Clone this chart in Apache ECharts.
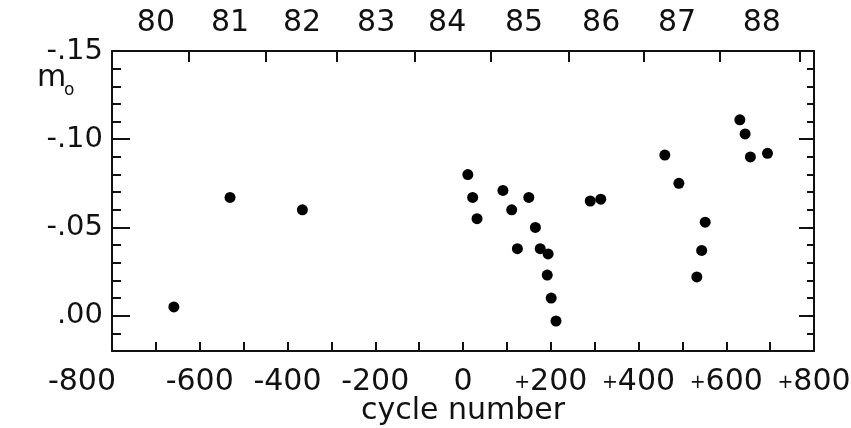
<!DOCTYPE html>
<html>
<head>
<meta charset="utf-8">
<script src="https://cdn.jsdelivr.net/npm/echarts@6/dist/echarts.min.js"></script>
<style>
  html, body { margin: 0; padding: 0; background: #fff; }
  #chart { width: 851px; height: 428px; }
</style>
</head>
<body>
<div id="chart"></div>
<script>
// cycle number vs m0
var cycles = [-659, -531, -366, 11, 22, 32, 91, 111, 124, 150, 165, 176, 194, 192, 201, 212,
              290, 314, 460, 492, 552, 544, 533, 631, 643, 655, 694];
var m0 = [-0.005, -0.067, -0.060, -0.080, -0.067, -0.055, -0.071, -0.060, -0.038, -0.067,
          -0.050, -0.038, -0.035, -0.023, -0.010, 0.003, -0.065, -0.066, -0.091, -0.075,
          -0.053, -0.037, -0.022, -0.111, -0.103, -0.090, -0.092];

// bottom axis labels
var xLabelValues = [-800, -600, -400, -200, 0, 200, 400, 600, 800];
var xLabelTexts = ['-800', '-600', '-400', '-200', '0', '+200', '+400', '+600', '+800'];

// top axis: year boundaries (in cycles) and year labels centred in each year
var yearTicks = [-624, -449, -287, -109, 64, 242, 413, 586, 768];
var yearLabelPos = [-700, -531, -367, -198, -36, 139, 315, 488, 681];
var yearLabels = ['80', '81', '82', '83', '84', '85', '86', '87', '88'];

// left axis labels
var yLabelValues = [-0.15, -0.10, -0.05, 0.00];
var yLabelTexts = ['-.15', '-.10', '-.05', '.00'];

var FONT = 'DejaVu Sans';
var INK = '#111';

function lookup(values, texts) {
    return function (v) {
        for (var i = 0; i < values.length; i++) {
            if (Math.abs(values[i] - v) < 1e-6) return texts[i];
        }
        return '';
    };
}

var lineStyle = { color: INK, width: 2 };
var labelStyle = { color: INK, fontFamily: FONT, fontSize: 30 };

var xLabel = lookup(xLabelValues, xLabelTexts);

var myChart = echarts.init(document.getElementById('chart'));
var option = {
    animation: false,
    backgroundColor: '#fff',
    grid: { left: 112, right: 37, top: 51, bottom: 77, outerBoundsMode: 'none' },
    xAxis: [{
        type: 'value', position: 'bottom', min: -800, max: 800, interval: 100,
        axisLine: { onZero: false, lineStyle: lineStyle },
        axisTick: { inside: true, length: 9, lineStyle: lineStyle },
        axisLabel: Object.assign({ margin: 16, customValues: xLabelValues,
            formatter: function (v) {
                var t = xLabel(v);
                // first label sits left of the corner in the original
                if (v === -800) return '{first|' + t + '}';
                // small plus sign
                if (t.charAt(0) === '+') return '{p|+}' + t.slice(1);
                return t;
            },
            rich: {
                first: { fontFamily: FONT, fontSize: 30, color: INK, padding: [0, 60, 0, 0] },
                p: { fontFamily: FONT, fontSize: 19, color: INK, padding: [3, 0, 0, 0] }
            }
        }, labelStyle),
        splitLine: { show: false },
        name: 'cycle number', nameLocation: 'middle', nameGap: 45, nameMoveOverlap: false,
        nameTextStyle: { color: INK, fontFamily: FONT, fontSize: 30 }
    }, {
        type: 'value', position: 'top', min: -800, max: 800,
        axisLine: { onZero: false, lineStyle: lineStyle },
        axisTick: { inside: true, length: 11, customValues: yearTicks, lineStyle: lineStyle },
        axisLabel: Object.assign({ margin: 13, customValues: yearLabelPos,
            formatter: lookup(yearLabelPos, yearLabels) }, labelStyle),
        splitLine: { show: false }
    }],
    yAxis: [{
        type: 'value', position: 'left', inverse: true, min: -0.15, max: 0.02, interval: 0.01,
        axisLine: { onZero: false, lineStyle: lineStyle },
        axisTick: { inside: true, length: 9, lineStyle: lineStyle },
        axisLabel: Object.assign({ margin: 9, customValues: yLabelValues,
            formatter: lookup(yLabelValues, yLabelTexts) }, labelStyle, { fontSize: 29 }),
        splitLine: { show: false }
    }, {
        type: 'value', position: 'left', inverse: true, min: -0.15, max: 0.02,
        axisLine: { show: false, onZero: false },
        axisTick: { inside: true, length: 18, customValues: yLabelValues, lineStyle: lineStyle },
        axisLabel: { show: false },
        splitLine: { show: false }
    }, {
        type: 'value', position: 'right', inverse: true, min: -0.15, max: 0.02, interval: 0.01,
        axisLine: { onZero: false, lineStyle: lineStyle },
        axisTick: { inside: true, length: 7, lineStyle: lineStyle },
        axisLabel: { show: false },
        splitLine: { show: false }
    }, {
        type: 'value', position: 'right', inverse: true, min: -0.15, max: 0.02,
        axisLine: { show: false, onZero: false },
        axisTick: { inside: true, length: 15, customValues: yLabelValues, lineStyle: lineStyle },
        axisLabel: { show: false },
        splitLine: { show: false }
    }],
    graphic: [{
        type: 'text', left: 37, top: 63,
        style: { text: 'm', fontFamily: FONT, fontSize: 30, fill: INK }
    }, {
        type: 'text', left: 64, top: 82,
        style: { text: 'o', fontFamily: FONT, fontSize: 17, fill: INK }
    }],
    series: [{
        type: 'scatter',
        xAxisIndex: 0, yAxisIndex: 0,
        symbol: 'circle', symbolSize: 11,
        itemStyle: { color: '#000', opacity: 1 },
        data: cycles.map(function (c, i) { return [c, m0[i]]; })
    }]
};
myChart.setOption(option);
</script>
</body>
</html>
